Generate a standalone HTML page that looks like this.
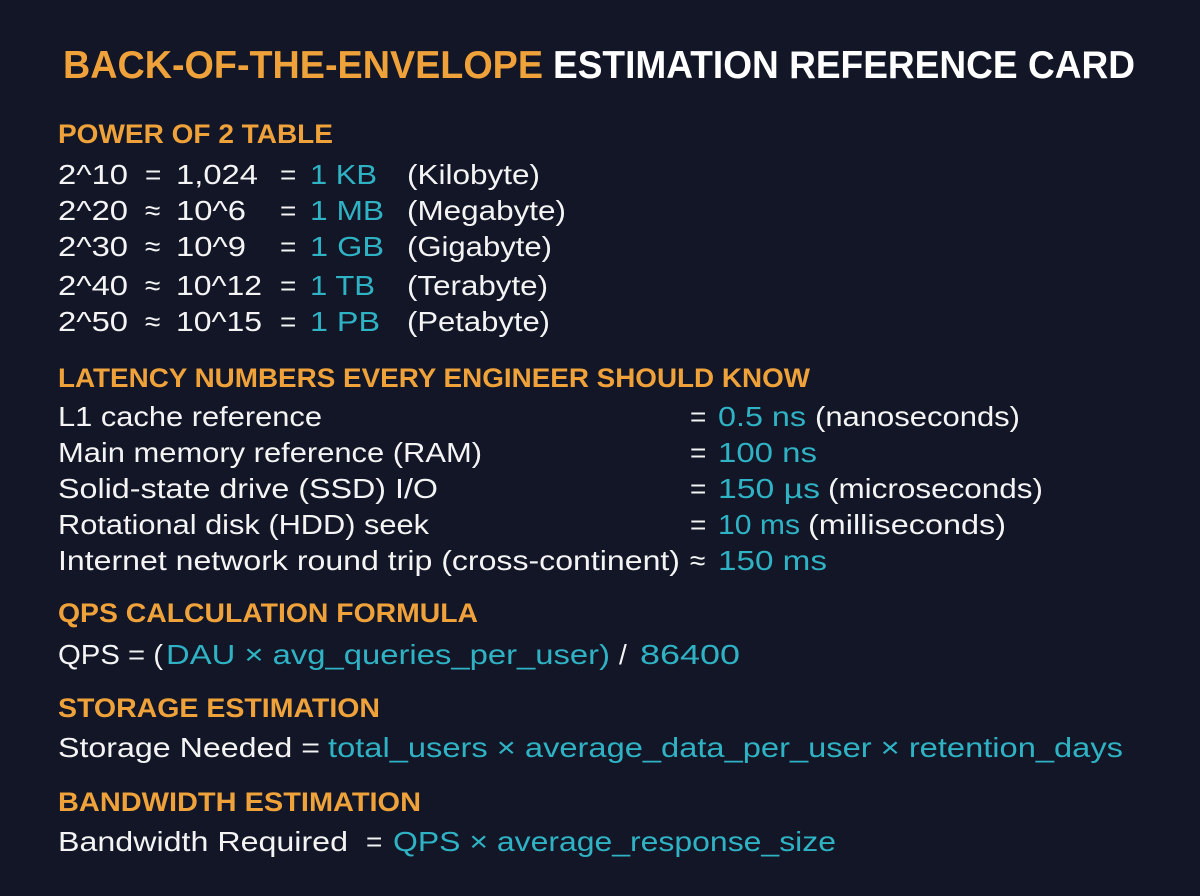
<!DOCTYPE html>
<html><head><meta charset="utf-8"><style>
html,body{margin:0;padding:0;background:#121626;}
svg{display:block}
text{font-family:"Liberation Sans",sans-serif;}
.t{font-size:39px;font-weight:bold;}
.h{font-size:27px;font-weight:bold;fill:#f0a23a;}
.b{font-size:28px;fill:#f4f4f4;}
.c{fill:#2fb3c4;}
.o{fill:#f0a23a;}
</style></head><body>
<svg width="1200" height="896" viewBox="0 0 1200 896" xmlns="http://www.w3.org/2000/svg">
<rect width="1200" height="896" fill="#121626"/>
<text class="t o" x="63" y="78" textLength="480" lengthAdjust="spacingAndGlyphs">BACK-OF-THE-ENVELOPE</text>
<text class="t" x="553" y="78" fill="#ffffff" textLength="582" lengthAdjust="spacingAndGlyphs">ESTIMATION REFERENCE CARD</text>

<text class="h" x="58" y="143" textLength="275" lengthAdjust="spacingAndGlyphs">POWER OF 2 TABLE</text>
<g class="b">
<text x="58" y="184" textLength="70" lengthAdjust="spacingAndGlyphs">2^10</text><text x="145" y="184">=</text><text x="176" y="184" textLength="82" lengthAdjust="spacingAndGlyphs">1,024</text><text x="280" y="184">=</text><text class="c" x="310" y="184" textLength="67" lengthAdjust="spacingAndGlyphs">1 KB</text><text x="407" y="184" textLength="133" lengthAdjust="spacingAndGlyphs">(Kilobyte)</text>
<text x="58" y="220" textLength="70" lengthAdjust="spacingAndGlyphs">2^20</text><text x="145" y="220">≈</text><text x="176" y="220" textLength="70" lengthAdjust="spacingAndGlyphs">10^6</text><text x="280" y="220">=</text><text class="c" x="310" y="220" textLength="74" lengthAdjust="spacingAndGlyphs">1 MB</text><text x="407" y="220" textLength="159" lengthAdjust="spacingAndGlyphs">(Megabyte)</text>
<text x="58" y="256" textLength="70" lengthAdjust="spacingAndGlyphs">2^30</text><text x="145" y="256">≈</text><text x="176" y="256" textLength="70" lengthAdjust="spacingAndGlyphs">10^9</text><text x="280" y="256">=</text><text class="c" x="310" y="256" textLength="74" lengthAdjust="spacingAndGlyphs">1 GB</text><text x="407" y="256" textLength="145" lengthAdjust="spacingAndGlyphs">(Gigabyte)</text>
<text x="58" y="295" textLength="70" lengthAdjust="spacingAndGlyphs">2^40</text><text x="145" y="295">≈</text><text x="176" y="295" textLength="86" lengthAdjust="spacingAndGlyphs">10^12</text><text x="280" y="295">=</text><text class="c" x="310" y="295" textLength="65" lengthAdjust="spacingAndGlyphs">1 TB</text><text x="407" y="295" textLength="141" lengthAdjust="spacingAndGlyphs">(Terabyte)</text>
<text x="58" y="331" textLength="70" lengthAdjust="spacingAndGlyphs">2^50</text><text x="145" y="331">≈</text><text x="176" y="331" textLength="86" lengthAdjust="spacingAndGlyphs">10^15</text><text x="280" y="331">=</text><text class="c" x="310" y="331" textLength="70" lengthAdjust="spacingAndGlyphs">1 PB</text><text x="407" y="331" textLength="143" lengthAdjust="spacingAndGlyphs">(Petabyte)</text>
</g>

<text class="h" x="58" y="387" textLength="752" lengthAdjust="spacingAndGlyphs">LATENCY NUMBERS EVERY ENGINEER SHOULD KNOW</text>
<g class="b">
<text x="58" y="426" textLength="264" lengthAdjust="spacingAndGlyphs">L1 cache reference</text><text x="690" y="426">=</text><text class="c" x="718" y="426" textLength="88" lengthAdjust="spacingAndGlyphs">0.5 ns</text><text x="815" y="426" textLength="205" lengthAdjust="spacingAndGlyphs">(nanoseconds)</text>
<text x="58" y="462" textLength="424" lengthAdjust="spacingAndGlyphs">Main memory reference (RAM)</text><text x="690" y="462">=</text><text class="c" x="718" y="462" textLength="99" lengthAdjust="spacingAndGlyphs">100 ns</text>
<text x="58" y="498" textLength="380" lengthAdjust="spacingAndGlyphs">Solid-state drive (SSD) I/O</text><text x="690" y="498">=</text><text class="c" x="718" y="498" textLength="102" lengthAdjust="spacingAndGlyphs">150 µs</text><text x="828" y="498" textLength="215" lengthAdjust="spacingAndGlyphs">(microseconds)</text>
<text x="58" y="534" textLength="371" lengthAdjust="spacingAndGlyphs">Rotational disk (HDD) seek</text><text x="690" y="534">=</text><text class="c" x="718" y="534" textLength="82" lengthAdjust="spacingAndGlyphs">10 ms</text><text x="808" y="534" textLength="198" lengthAdjust="spacingAndGlyphs">(milliseconds)</text>
<text x="58" y="570" textLength="622" lengthAdjust="spacingAndGlyphs">Internet network round trip (cross-continent)</text><text x="690" y="570">≈</text><text class="c" x="718" y="570" textLength="109" lengthAdjust="spacingAndGlyphs">150 ms</text>
</g>

<text class="h" x="58" y="622" textLength="420" lengthAdjust="spacingAndGlyphs">QPS CALCULATION FORMULA</text>
<g class="b">
<text x="58" y="664" textLength="105" lengthAdjust="spacingAndGlyphs">QPS = (</text><text class="c" x="166" y="664" textLength="444" lengthAdjust="spacingAndGlyphs">DAU × avg_queries_per_user)</text><text x="619" y="664">/</text><text class="c" x="640" y="664" textLength="100" lengthAdjust="spacingAndGlyphs">86400</text>
</g>

<text class="h" x="58" y="717" textLength="322" lengthAdjust="spacingAndGlyphs">STORAGE ESTIMATION</text>
<g class="b">
<text x="58" y="757" textLength="262" lengthAdjust="spacingAndGlyphs">Storage Needed =</text><text class="c" x="328" y="757" textLength="795" lengthAdjust="spacingAndGlyphs">total_users × average_data_per_user × retention_days</text>
</g>

<text class="h" x="58" y="811" textLength="363" lengthAdjust="spacingAndGlyphs">BANDWIDTH ESTIMATION</text>
<g class="b">
<text x="58" y="851" textLength="290" lengthAdjust="spacingAndGlyphs">Bandwidth Required</text><text x="366" y="851">=</text><text class="c" x="393" y="851" textLength="443" lengthAdjust="spacingAndGlyphs">QPS × average_response_size</text>
</g>
</svg>
</body></html>
